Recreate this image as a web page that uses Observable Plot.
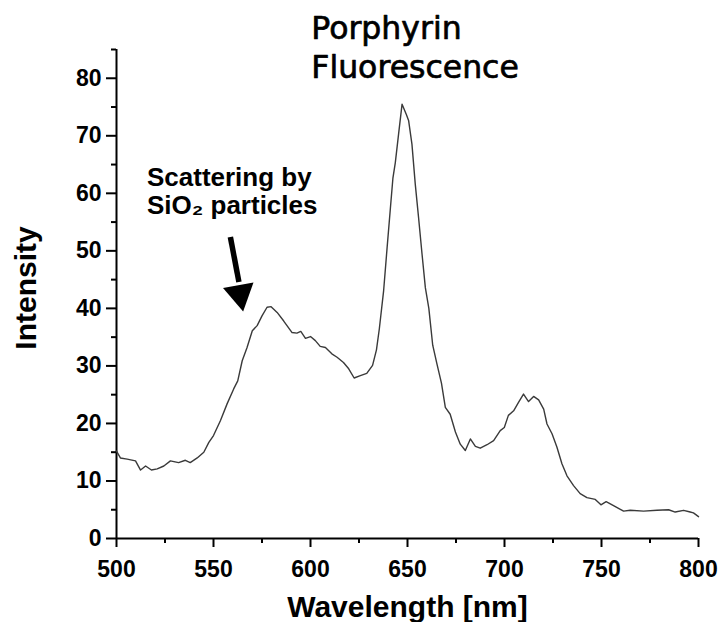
<!DOCTYPE html>
<html>
<head>
<meta charset="utf-8">
<script src="https://cdn.jsdelivr.net/npm/d3@7"></script>
<script src="https://cdn.jsdelivr.net/npm/@observablehq/plot@0.6"></script>
<style>
  html, body { margin: 0; padding: 0; background: #fff; }
  #chart svg { display: block; }
</style>
</head>
<body>
<div id="chart"></div>
<script>
// Wavelength [nm] and intensity values
const wavelength = [500, 502, 505.5, 509.8, 512.4, 515, 518, 521, 524.4, 527.8, 532, 535.5, 538, 541.6, 545, 547.6, 550, 553.6, 557, 560.4, 562.5, 564.8, 567.3, 570, 572.5, 575, 577.6, 579.7, 582.8, 586.2, 590.5, 593, 595, 597.4, 600, 602.5, 605, 607.7, 611, 613.7, 617, 619.7, 622.5, 625.7, 629, 632, 634, 635.5, 637.7, 639.5, 641.2, 642.5, 643.7, 645.4, 647.2, 649.4, 650.6, 652.3, 654, 655.7, 657.5, 659.2, 661, 663, 665.2, 667.5, 669.5, 672, 674.7, 677.2, 679.8, 682.4, 685, 687.5, 691, 694.4, 697.8, 699.9, 702, 704.7, 707.3, 709.8, 712.4, 715, 717.6, 720.2, 721.9, 724.5, 727, 729.6, 732.2, 735.6, 739, 742.5, 746.8, 749.7, 752.4, 756.2, 761.4, 764.8, 771.7, 778.6, 784.6, 788, 792.3, 795.7, 797.4, 800];
const intensity = [15.2, 14.0, 13.8, 13.5, 11.9, 12.6, 11.9, 12.1, 12.6, 13.5, 13.2, 13.6, 13.2, 14.0, 15.0, 16.7, 17.9, 20.5, 23.4, 26.0, 27.4, 30.9, 33.2, 36.1, 37.0, 38.7, 40.2, 40.3, 39.3, 37.8, 35.8, 35.7, 36.0, 34.8, 35.1, 34.4, 33.4, 33.2, 32.1, 31.5, 30.6, 29.5, 27.9, 28.3, 28.7, 30.1, 32.8, 36.5, 43.1, 50.6, 57.5, 62.7, 65.3, 70.3, 75.5, 73.7, 72.6, 68.5, 61.6, 55.8, 49.4, 43.6, 40.0, 33.6, 30.3, 27.0, 22.8, 21.6, 18.5, 16.4, 15.3, 17.3, 16.0, 15.7, 16.3, 17.0, 18.75, 19.3, 21.4, 22.2, 23.7, 25.1, 23.8, 24.7, 24.1, 22.5, 19.9, 18.2, 15.9, 13.0, 10.9, 9.2, 7.8, 7.1, 6.8, 5.85, 6.4, 5.7, 4.75, 4.9, 4.75, 4.9, 5.0, 4.6, 4.9, 4.6, 4.45, 3.8];

// Axis ticks
const xMajorTicks = [500, 550, 600, 650, 700, 750, 800];
const xMinorTicks = [525, 575, 625, 675, 725, 775];
const yMajorTicks = [0, 10, 20, 30, 40, 50, 60, 70, 80];
const yMinorTicks = [5, 15, 25, 35, 45, 55, 65, 75, 85];

// Texts
const titleText = "Porphyrin\nFluorescence";
const annotationText = "Scattering by\nSiO\u2082 particles";
const xLabel = "Wavelength [nm]";
const yLabel = "Intensity";

// Annotation anchors (data coordinates)
const titlePos = [{x: 600.4, y: 80.0}];
const notePos = [{x: 515.7, y: 56.4}];
const arrowShaft = [{x1: 558.7, y1: 52.4, x2: 563.1, y2: 44.6}];
const arrowHead = [{x: 563.6, y: 42.5}];

const data = wavelength.map((w, i) => ({w, v: intensity[i]}));
const sans = "'Liberation Sans', Arial, sans-serif";

const chart = Plot.plot({
  width: 719,
  height: 622,
  marginLeft: 116,
  marginRight: 21,
  marginTop: 49,
  marginBottom: 84,
  style: {fontFamily: sans, background: "#fff", color: "#000"},
  x: {domain: [500, 800]},
  y: {domain: [0, 85]},
  marks: [
    // minor ticks
    Plot.axisX({ticks: xMinorTicks, tickSize: 5, strokeWidth: 2, text: null, label: null}),
    Plot.axisY({ticks: yMinorTicks, tickSize: 5, strokeWidth: 2, text: null, label: null}),
    // major ticks
    Plot.axisX({ticks: xMajorTicks, tickSize: 9, strokeWidth: 2, tickPadding: 13, fontSize: 23, fontWeight: "bold", tickFormat: d => String(d), label: null, style: "letter-spacing:-1px"}),
    Plot.axisY({ticks: yMajorTicks, tickSize: 10, strokeWidth: 2, tickPadding: 5, fontSize: 23, fontWeight: "bold", tickFormat: d => String(d), label: null, style: "letter-spacing:-0.5px"}),
    // axis lines
    Plot.ruleX([500], {strokeWidth: 2, stroke: "#000"}),
    Plot.ruleY([0], {strokeWidth: 2, stroke: "#000"}),
    // spectrum
    Plot.line(data, {x: "w", y: "v", stroke: "#3a3a3a", strokeWidth: 1.4}),
    // axis labels
    Plot.text([xLabel], {frameAnchor: "bottom", dy: 78, textAnchor: "middle", lineAnchor: "bottom", fontSize: 30, fontWeight: "bold", fill: "#000", style: "letter-spacing:-1.5px"}),
    Plot.text([yLabel], {frameAnchor: "left", dx: -81, dy: -6, rotate: -90, textAnchor: "middle", lineAnchor: "bottom", fontSize: 30, fontWeight: "bold", fill: "#000", style: "letter-spacing:-1px"}),
    // title
    Plot.text(titlePos, {x: "x", y: "y", text: () => titleText, textAnchor: "start", lineAnchor: "bottom", lineHeight: 1.24, fontSize: 31.5, fontFamily: "'DejaVu Sans', sans-serif", fill: "#000", stroke: "#000", strokeWidth: 0.7}),
    // annotation
    Plot.text(notePos, {x: "x", y: "y", text: () => annotationText, textAnchor: "start", lineAnchor: "bottom", lineHeight: 1.08, fontSize: 26, fontWeight: "bold", fill: "#000", style: "letter-spacing:0.5px"}),
    Plot.link(arrowShaft, {x1: "x1", y1: "y1", x2: "x2", y2: "y2", stroke: "#000", strokeWidth: 5.5}),
    Plot.dot(arrowHead, {x: "x", y: "y", symbol: "triangle", r: 11.5, fill: "#000", stroke: "none", rotate: 169.5})
  ]
});
document.getElementById("chart").appendChild(chart);
</script>
</body>
</html>
